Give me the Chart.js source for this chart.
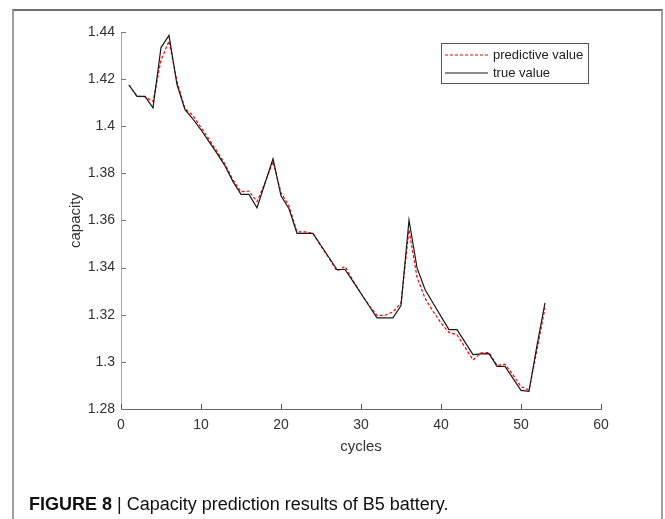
<!DOCTYPE html>
<html>
<head>
<meta charset="utf-8">
<script src="https://cdn.jsdelivr.net/npm/chart.js@4.4.1/dist/chart.umd.min.js"></script>
<style>
    body { margin: 0; background: #fff; }
    #wrap { position: relative; width: 665px; height: 519px; overflow: hidden; }
    #frame {
        position: absolute; left: 12px; top: 9px; width: 647px; height: 520px;
        border-left: 2px solid #a0a0a0; border-right: 2px solid #a0a0a0; border-top: 2px solid #707070;
    }
    #myChart { position: absolute; left: 0; top: 0; }
    #caption {
        position: absolute; left: 29px; top: 495px;
        font-family: "Liberation Sans", Arial, sans-serif; font-size: 18px; line-height: 18px;
        color: #111; white-space: nowrap;
    }
    #caption b { font-weight: bold; }
</style>
</head>
<body>
<div id="wrap">
    <div id="frame"></div>
    <canvas id="myChart" width="665" height="519"></canvas>
    <div id="caption"><b>FIGURE 8</b> | Capacity prediction results of B5 battery.</div>
</div>
<script>
var cycles = [1, 2, 3, 4, 5, 6, 7, 8, 9, 10, 11, 12, 13, 14, 15, 16, 17, 18, 19, 20,
    21, 22, 23, 24, 25, 26, 27, 28, 29, 30, 31, 32, 33, 34, 35, 36, 37, 38, 39, 40,
    41, 42, 43, 44, 45, 46, 47, 48, 49, 50, 51, 52, 53];

var trueValue = [1.4175, 1.4127, 1.4127, 1.4078, 1.4334, 1.4386, 1.4177, 1.4070, 1.4030, 1.3985,
    1.3935, 1.3885, 1.3832, 1.3765, 1.3711, 1.3711, 1.3654, 1.3758, 1.3862, 1.3705,
    1.3650, 1.3545, 1.3545, 1.3545, 1.3494, 1.3443, 1.3392, 1.3392, 1.3342, 1.3290,
    1.3238, 1.3187, 1.3187, 1.3187, 1.3239, 1.3602, 1.3400, 1.3307, 1.3250, 1.3193,
    1.3137, 1.3137, 1.3084, 1.3031, 1.3034, 1.3035, 1.2981, 1.2981, 1.2930, 1.2879,
    1.2875, 1.3070, 1.3250];

var predictiveValue = [1.4175, 1.4127, 1.4125, 1.4105, 1.4280, 1.4362, 1.4190, 1.4075, 1.4045, 1.3995,
    1.3945, 1.3893, 1.3840, 1.3772, 1.3722, 1.3725, 1.3680, 1.3760, 1.3850, 1.3718,
    1.3662, 1.3552, 1.3552, 1.3545, 1.3490, 1.3440, 1.3385, 1.3405, 1.3345, 1.3290,
    1.3240, 1.3197, 1.3198, 1.3212, 1.3250, 1.3560, 1.3360, 1.3270, 1.3215, 1.3165,
    1.3125, 1.3115, 1.3062, 1.3008, 1.3038, 1.3040, 1.2985, 1.2990, 1.2945, 1.2895,
    1.2880, 1.3050, 1.3230];

var xTicks = [0, 10, 20, 30, 40, 50, 60];
var yTicks = [1.28, 1.3, 1.32, 1.34, 1.36, 1.38, 1.4, 1.42, 1.44];

const FONT = '"Liberation Sans", Arial, sans-serif';

function toPoints(xs, ys) {
    return xs.map((x, i) => ({ x: x, y: ys[i] }));
}

// matlab style ticks pointing into the axes
const innerTicks = {
    id: 'innerTicks',
    afterDraw(chart) {
        const ctx = chart.ctx;
        const xs = chart.scales.x;
        const ys = chart.scales.y;
        const area = chart.chartArea;
        ctx.save();
        ctx.lineWidth = 1;
        ctx.strokeStyle = '#555';
        xTicks.forEach((v) => {
            const px = Math.round(xs.getPixelForValue(v)) + 0.5;
            ctx.beginPath();
            ctx.moveTo(px, area.bottom);
            ctx.lineTo(px, area.bottom - 5);
            ctx.stroke();
        });
        ctx.strokeStyle = '#777';
        yTicks.forEach((v) => {
            const py = Math.round(ys.getPixelForValue(v)) + 0.5;
            ctx.beginPath();
            ctx.moveTo(area.left, py);
            ctx.lineTo(area.left + 5, py);
            ctx.stroke();
        });
        ctx.restore();
    }
};

// boxed legend in the top right corner
const boxLegend = {
    id: 'boxLegend',
    afterDraw(chart) {
        const ctx = chart.ctx;
        const items = [chart.data.datasets[1], chart.data.datasets[0]];
        const left = 441, top = 43, w = 147, h = 40;
        ctx.save();
        ctx.fillStyle = '#fff';
        ctx.fillRect(left, top, w, h);
        ctx.strokeStyle = '#555';
        ctx.lineWidth = 1;
        ctx.strokeRect(left + 0.5, top + 0.5, w, h);
        ctx.font = '13px ' + FONT;
        ctx.textBaseline = 'middle';
        items.forEach((ds, i) => {
            const y = top + 12 + i * 18;
            ctx.strokeStyle = ds.borderColor;
            ctx.lineWidth = ds.borderWidth;
            ctx.setLineDash(ds.borderDash || []);
            ctx.beginPath();
            ctx.moveTo(left + 4, y);
            ctx.lineTo(left + 47, y);
            ctx.stroke();
            ctx.setLineDash([]);
            ctx.fillStyle = '#222';
            ctx.fillText(ds.label, left + 52, y);
        });
        ctx.restore();
    }
};

function createChart() {
    const ctx = document.getElementById('myChart');
    new Chart(ctx, {
        type: 'line',
        data: {
            datasets: [{
                label: 'true value',
                data: toPoints(cycles, trueValue),
                borderColor: '#1a1a1a',
                borderWidth: 1.2,
                pointRadius: 0,
                tension: 0,
                order: 0
            }, {
                label: 'predictive value',
                data: toPoints(cycles, predictiveValue),
                borderColor: '#ff0000',
                borderWidth: 1.2,
                borderDash: [3, 2],
                pointRadius: 0,
                tension: 0,
                order: 1
            }]
        },
        options: {
            responsive: false,
            animation: false,
            layout: { padding: { top: 32, right: 64, left: 0, bottom: 0 } },
            plugins: {
                legend: { display: false },
                tooltip: { enabled: false }
            },
            scales: {
                x: {
                    type: 'linear',
                    min: 0,
                    max: 60,
                    afterFit: (scale) => { scale.height = 110; },
                    afterBuildTicks: (scale) => { scale.ticks = xTicks.map(v => ({ value: v })); },
                    grid: { display: false, drawTicks: false },
                    border: { display: true, color: '#666', width: 1 },
                    ticks: { padding: 8, color: '#333', font: { family: FONT, size: 14 } },
                    title: {
                        display: true, text: 'cycles', color: '#333',
                        font: { family: FONT, size: 15 }, padding: { top: 0, bottom: 63 }
                    }
                },
                y: {
                    min: 1.28,
                    max: 1.44,
                    afterFit: (scale) => { scale.width = 121; },
                    afterBuildTicks: (scale) => { scale.ticks = yTicks.map(v => ({ value: v })); },
                    grid: { display: false, drawTicks: false },
                    border: { display: true, color: '#aaa', width: 1 },
                    ticks: {
                        padding: 6, color: '#333', font: { family: FONT, size: 14 },
                        callback: (v) => String(parseFloat(v.toFixed(2)))
                    },
                    title: {
                        display: true, text: 'capacity', color: '#333',
                        font: { family: FONT, size: 15 }, padding: { top: 67, bottom: 0 }
                    }
                }
            }
        },
        plugins: [innerTicks, boxLegend]
    });
}

createChart();
</script>
</body>
</html>
